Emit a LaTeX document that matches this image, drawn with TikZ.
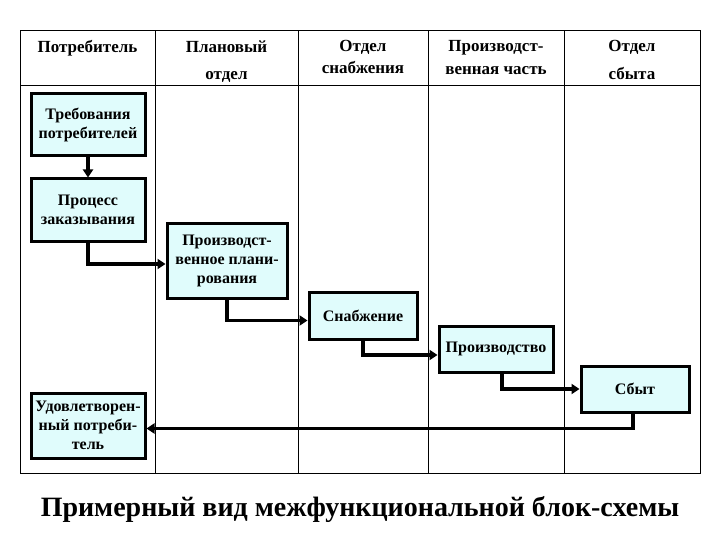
\documentclass[tikz,border=0pt]{standalone}
\usepackage{fontspec}
\setmainfont{Liberation Serif}
\usetikzlibrary{arrows.meta}
\definecolor{boxfill}{HTML}{E0FCFC}
\tikzset{
  grid/.style={draw=black, line width=1pt},
  hdr/.style={font=\fontsize{17}{17}\selectfont\bfseries, anchor=base, inner sep=0pt},
  stepbox/.style={draw=black, line width=3pt, fill=boxfill, align=center, inner sep=1pt,
     font=\fontsize{16}{19}\selectfont\bfseries},
  conn/.style={line width=3.5pt, -{Triangle[width=10pt,length=8pt]}},
}
\begin{document}
\begin{tikzpicture}[x=1pt,y=-1pt]
\useasboundingbox (0,0) rectangle (720,540);
% table
\draw[grid] (20,31) rectangle (700,473);
\draw[grid] (20,86) -- (700,86);
\foreach \xx in {155,298,428,564} \draw[grid] (\xx,31) -- (\xx,473);
% headers
\node[hdr] (h1) at (87.5,53) {Потребитель};
\node[hdr] (h2a) at (226.5,53) {Плановый};
\node[hdr] (h2b) at (226.5,80) {отдел};
\node[hdr] (h3a) at (363,52) {Отдел};
\node[hdr] (h3b) at (363,74) {снабжения};
\node[hdr] (h4a) at (496,52) {Производст-};
\node[hdr] (h4b) at (496,75) {венная часть};
\node[hdr] (h5a) at (632,52) {Отдел};
\node[hdr] (h5b) at (632,80) {сбыта};
% boxes
\node[stepbox, minimum width=114pt, minimum height=62pt] (b1) at (88,125) {Требования\\потребителей};
\node[stepbox, minimum width=114pt, minimum height=62pt] (b2) at (88,210) {Процесс\\заказывания};
\node[stepbox, minimum width=120pt, minimum height=74pt] (b3) at (227,261) {Производст-\\венное плани-\\рования};
\node[stepbox, minimum width=108pt, minimum height=47pt] (b4) at (363,315.5) {Снабжение};
\node[stepbox, minimum width=114pt, minimum height=46pt] (b5) at (496,349) {Производство};
\node[stepbox, minimum width=108pt, minimum height=46pt] (b6) at (635,389) {Сбыт};
\node[stepbox, minimum width=114pt, minimum height=65pt] (b7) at (88,425.5) {Удовлетворен-\\ный потреби-\\тель};
% connectors
\draw[conn] (b1) -- (b2);
\draw[conn] (b2.south) |- ([yshift=-3pt]b3.west);
\draw[conn] (b3.south) |- ([yshift=-5pt]b4.west);
\draw[conn] (b4.south) |- ([yshift=-6pt]b5.west);
\draw[conn] ([xshift=6pt]b5.south) |- (b6.west);
\draw[conn] ([xshift=-2pt]b6.south) |- ([yshift=-3pt]b7.east);
% title
\node[font=\fontsize{28}{28}\selectfont\bfseries, anchor=base] (title) at (360,516) {Примерный вид межфункциональной блок-схемы};
\end{tikzpicture}
\end{document}
